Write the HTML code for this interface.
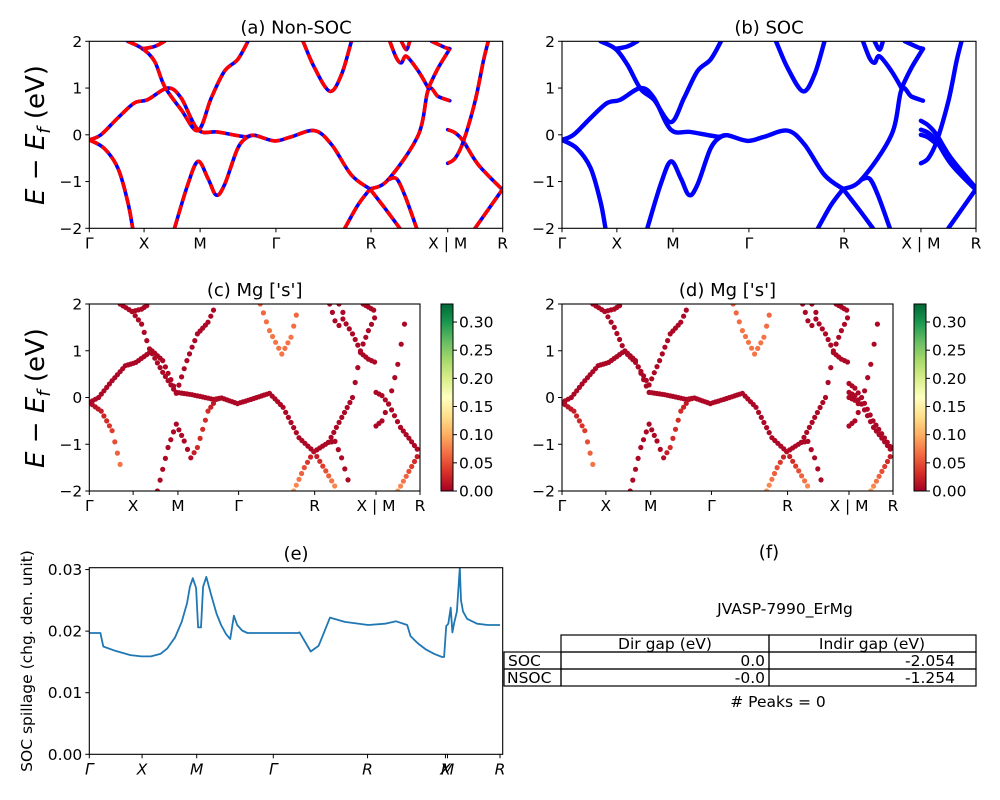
<!DOCTYPE html>
<html><head><meta charset="utf-8">
<style>
body{margin:0;background:#fff;}
svg{display:block;font-family:"DejaVu Sans","Liberation Sans",sans-serif;}
</style></head>
<body>
<svg id="fig" width="1000" height="800" viewBox="0 0 1000 800" xmlns="http://www.w3.org/2000/svg">
<defs>
<linearGradient id="rdylgn" x1="0" y1="1" x2="0" y2="0">
<stop offset="0" stop-color="#a50026"/><stop offset="0.1" stop-color="#d73027"/><stop offset="0.2" stop-color="#f46d43"/><stop offset="0.3" stop-color="#fdae61"/><stop offset="0.4" stop-color="#fee08b"/><stop offset="0.5" stop-color="#ffffbf"/><stop offset="0.6" stop-color="#d9ef8b"/><stop offset="0.7" stop-color="#a6d96a"/><stop offset="0.8" stop-color="#66bd63"/><stop offset="0.9" stop-color="#1a9850"/><stop offset="1" stop-color="#006837"/>
</linearGradient>
</defs>
<g id="root"></g>
<g font-size="15.5">
<text x="769" y="558" text-anchor="middle" font-size="18">(f)</text>
<text x="785" y="614" text-anchor="middle">JVASP-7990_ErMg</text>
<g fill="none" stroke="#000" stroke-width="1.2">
<rect x="561" y="635" width="208" height="17"/><rect x="769" y="635" width="207" height="17"/>
<rect x="504" y="652" width="57" height="17"/><rect x="561" y="652" width="208" height="17"/><rect x="769" y="652" width="207" height="17"/>
<rect x="504" y="669" width="57" height="17"/><rect x="561" y="669" width="208" height="17"/><rect x="769" y="669" width="207" height="17"/>
</g>
<text x="665" y="649" text-anchor="middle">Dir gap (eV)</text>
<text x="872" y="649" text-anchor="middle">Indir gap (eV)</text>
<text x="508" y="666">SOC</text>
<text x="765" y="666" text-anchor="end">0.0</text>
<text x="955" y="666" text-anchor="end">-2.054</text>
<text x="507" y="683">NSOC</text>
<text x="765" y="683" text-anchor="end">-0.0</text>
<text x="955" y="683" text-anchor="end">-1.254</text>
<text x="778" y="707" text-anchor="middle"># Peaks = 0</text>
</g>
</svg>
<script>
// ---- band data: [k fraction along path, energy eV, Mg-s weight] ----
const bandA=[[0,-0.11,0.005],[0.028,0,0.005],[0.069,0.36,0.005],[0.109,0.68,0.005],[0.141,0.75,0.005],[0.19,1.0,0.005],[0.222,0.79,0.005],[0.263,0.11,0.005],[0.311,0.06,0.005],[0.376,-0.04,0.005],[0.4,-0.01,0.005],[0.448,-0.13,0.005],[0.489,-0.04,0.005],[0.545,0.09,0.005],[0.586,-0.21,0.005],[0.634,-0.86,0.005],[0.679,-1.16,0.005]];
const bandA2=[[0.679,-1.16,0.005],[0.723,-0.96,0.005],[0.796,0,0.005],[0.82,0.96,0.005],[0.844,0.82,0.005],[0.872,0.73,0.005]];
const bandB=[[0.093,2.0,0.005],[0.129,1.84,0.005],[0.158,1.57,0.005],[0.182,1.04,0.005],[0.222,0.54,0.005],[0.263,0.09,0.005],[0.295,0.79,0.005],[0.327,1.36,0.005],[0.359,1.61,0.005],[0.384,2.0,0.005]];
const bandBsoc=[[0.093,2.0,0.005],[0.129,1.84,0.005],[0.158,1.5,0.005],[0.19,0.98,0.005],[0.222,0.75,0.005],[0.263,0.27,0.005],[0.295,0.79,0.005],[0.327,1.36,0.005],[0.359,1.61,0.005],[0.384,2.0,0.005]];
const bandC=[[0.129,1.84,0.005],[0.158,1.89,0.005],[0.182,2.0,0.005]];
const bandD=[[0,-0.11,0.005],[0.036,-0.29,0.02],[0.069,-0.71,0.04],[0.093,-1.43,0.07],[0.105,-2.0,0.09]];
const bandE=[[0.206,-2,0.005],[0.238,-1.07,0.005],[0.263,-0.57,0.005],[0.287,-0.93,0.005],[0.307,-1.29,0.01],[0.327,-1.07,0.03],[0.359,-0.29,0.03],[0.384,-0.04,0.01],[0.4,-0.01,0.005]];
const bandF=[[0.517,2,0.06],[0.545,1.43,0.07],[0.582,0.93,0.07],[0.61,1.29,0.07],[0.634,2,0.06]];
const bandG1=[[0.618,-2,0.09],[0.65,-1.5,0.05],[0.679,-1.16,0.01]];
const bandG2=[[0.679,-1.16,0.01],[0.715,-1.57,0.05],[0.751,-2,0.09]];
const bandG3=[[0.723,-0.96,0.005],[0.743,-0.94,0.005],[0.763,-1.29,0.005],[0.792,-2,0.005]];
const bandH1=[[0.727,2,0.005],[0.743,1.64,0.005],[0.755,1.54,0.005],[0.767,1.68,0.005],[0.796,1.36,0.005],[0.82,1.0,0.005]];
const bandH2=[[0.755,2,0.005],[0.767,1.82,0.005],[0.775,2,0.005]];
const bandH3=[[0.828,2,0.005],[0.86,1.87,0.005],[0.872,1.84,0.005]];
const bandH4=[[0.82,1.0,0.005],[0.844,1.43,0.005],[0.872,1.84,0.005]];
const bandI1=[[0.867,0.11,0.005],[0.885,0.04,0.005],[0.905,-0.14,0.005],[0.941,-0.64,0.005],[1,-1.18,0.005]];
const bandI2=[[0.867,-0.61,0.005],[0.885,-0.5,0.005],[0.905,-0.14,0.005],[0.933,0.71,0.005],[0.953,1.57,0.005],[0.965,2,0.005]];
const bandI3=[[0.933,-2,0.09],[1,-1.16,0.01]];
const socI4=[[0.867,0.3,0.005],[0.885,0.2,0.005],[0.905,0.0,0.005],[0.94,-0.5,0.005],[1,-1.14,0.005]];
const socI5=[[0.867,0.0,0.005],[0.885,-0.06,0.005],[0.905,-0.2,0.005]];
const nsocBands=[bandA,bandA2,bandB,bandC,bandD,bandE,bandF,bandG1,bandG2,bandG3,bandH1,bandH2,bandH3,bandH4,bandI1,bandI2,bandI3];
const socBands=[bandA,bandA2,bandBsoc,bandC,bandD,bandE,bandF,bandG1,bandG2,bandG3,bandH1,bandH2,bandH3,bandH4,bandI1,bandI2,bandI3,socI4,socI5];
const kTickFrac=[0,0.1325,0.268,0.4515,0.6815,0.867,1];
const kTickLabels=["Γ","X","M","Γ","R","X | M","R"];
const eTicks=[-2,-1,0,1,2];
const cbTicks=[0,0.05,0.1,0.15,0.2,0.25,0.3];
const cbMax=0.332;
// ---- spillage data ----
const spillK=[0,0.027,0.034,0.063,0.1,0.127,0.15,0.173,0.19,0.209,0.225,0.238,0.245,0.252,0.26,0.265,0.272,0.277,0.285,0.297,0.31,0.321,0.333,0.343,0.352,0.36,0.372,0.385,0.445,0.508,0.512,0.539,0.558,0.562,0.586,0.622,0.679,0.72,0.747,0.774,0.782,0.8,0.82,0.84,0.859,0.864,0.869,0.874,0.88,0.884,0.888,0.895,0.902,0.905,0.91,0.92,0.944,0.97,1];
const spillV=[0.0197,0.0197,0.0175,0.0168,0.0161,0.0159,0.0159,0.0163,0.0172,0.019,0.0215,0.0245,0.0272,0.0286,0.0270,0.0206,0.0206,0.0272,0.0288,0.0258,0.0228,0.021,0.0195,0.0187,0.0225,0.021,0.0201,0.0197,0.0197,0.0197,0.0198,0.0167,0.0176,0.0182,0.0222,0.0215,0.0210,0.0212,0.0216,0.0210,0.0192,0.0180,0.0170,0.0163,0.0158,0.0158,0.0208,0.0212,0.0238,0.0198,0.0212,0.0232,0.0303,0.0250,0.0232,0.0220,0.0212,0.0210,0.0210];
const spillTickFrac=[0,0.1285,0.2615,0.448,0.6775,0.8672,0.8722,1];
const spillTickLabels=["Γ","X","M","Γ","R","X","M","R"];
const spillYTicks=[0,0.01,0.02,0.03];

const NS="http://www.w3.org/2000/svg";
const root=document.getElementById('root');
function mk(tag,attrs,parent){const e=document.createElementNS(NS,tag);for(const k in attrs)e.setAttribute(k,attrs[k]);(parent||root).appendChild(e);return e;}
function txt(x,y,s,attrs,parent){const t=mk('text',Object.assign({x:x,y:y},attrs||{}),parent);t.textContent=s;return t;}
const cmapStops=["#a50026","#d73027","#f46d43","#fdae61","#fee08b","#ffffbf","#d9ef8b","#a6d96a","#66bd63","#1a9850","#006837"];
function hex(c){return [parseInt(c.slice(1,3),16),parseInt(c.slice(3,5),16),parseInt(c.slice(5,7),16)];}
function cmap(v){let t=Math.max(0,Math.min(1,v/cbMax))*10;const i=Math.min(9,Math.floor(t));const f=t-i;const a=hex(cmapStops[i]),b=hex(cmapStops[i+1]);return 'rgb('+a.map((x,j)=>Math.round(x+(b[j]-x)*f)).join(',')+')';}
function smoothPath(pts){let d='M'+pts[0][0].toFixed(1)+','+pts[0][1].toFixed(1);for(let i=0;i<pts.length-1;i++){const p0=pts[Math.max(0,i-1)],p1=pts[i],p2=pts[i+1],p3=pts[Math.min(pts.length-1,i+2)];const c1=[p1[0]+(p2[0]-p0[0])/6,p1[1]+(p2[1]-p0[1])/6],c2=[p2[0]-(p3[0]-p1[0])/6,p2[1]-(p3[1]-p1[1])/6];d+=' C'+c1[0].toFixed(1)+','+c1[1].toFixed(1)+' '+c2[0].toFixed(1)+','+c2[1].toFixed(1)+' '+p2[0].toFixed(1)+','+p2[1].toFixed(1);}return d;}

function axesFrame(p,name,title,ticksFrac,labels){
  const g=mk('g',{});
  
  
  const cid='clip-'+name;
  const cp=mk('clipPath',{id:cid},g);mk('rect',{x:p.x0,y:p.y0,width:p.x1-p.x0,height:p.y1-p.y0},cp);
  const plot=mk('g',{'clip-path':'url(#'+cid+')'},g);
  
  
  const t=txt((p.x0+p.x1)/2,p.y0-8,title,{'text-anchor':'middle','font-size':'18'},g);
  
  
  ticksFrac.forEach((f,i)=>{const x=p.x0+f*(p.xd-p.x0);mk('line',{x1:x,x2:x,y1:p.y1,y2:p.y1+4,stroke:'#000','stroke-width':1},g);
    const l=txt(x,p.y1+20,labels[i],{'text-anchor':'middle','font-size':'15.5','font-style':p.italic?'italic':'normal'},g);
    
    });
  return {g,plot};
}
function bandPanel(p,name,title,bands,mode){
  const ax=axesFrame(p,name,title,kTickFrac,kTickLabels);
  const X=k=>p.x0+k*(p.x1-p.x0), Y=e=>p.y1-(e+2)/4*(p.y1-p.y0);
  eTicks.forEach(e=>{const y=Y(e);mk('line',{x1:p.x0-4,x2:p.x0,y1:y,y2:y,stroke:'#000'},ax.g);
    const l=txt(p.x0-7,y+5.5,e<0?'−'+(-e):String(e),{'text-anchor':'end','font-size':'15.5'},ax.g);
    
    });
  bands.forEach((b,bi)=>{
    const pts=b.map(q=>[X(q[0]),Y(q[1])]);
    if(mode==='nsoc'){
      const a=mk('path',{d:smoothPath(pts),fill:'none',stroke:'#0000ff','stroke-width':3.6,'stroke-linecap':'round'},ax.plot);
      
      
      const r=mk('path',{d:smoothPath(pts),fill:'none',stroke:'#ff0000','stroke-width':3.6,'stroke-dasharray':'10 4'},ax.plot);
      
      
    } else if(mode==='soc'){
      const a=mk('path',{d:smoothPath(pts),fill:'none',stroke:'#0000ff','stroke-width':4.4,'stroke-linecap':'round'},ax.plot);
      
      
    } else {
      const step=1/120;
      for(let i=0;i<b.length-1;i++){
        const [k0,e0,w0]=b[i],[k1,e1,w1]=b[i+1];
        const n=Math.max(1,Math.round((k1-k0)/step));
        for(let j=0;j<n;j++){const f=j/n;const k=k0+(k1-k0)*f,e=e0+(e1-e0)*f,w=w0+(w1-w0)*f;
          const c=mk('circle',{cx:X(k).toFixed(1),cy:Y(e).toFixed(1),r:2.6,fill:cmap(w)},ax.plot);
          
          }
      }
    }
  });
  mk('rect',{x:p.x0,y:p.y0,width:p.x1-p.x0,height:p.y1-p.y0,fill:'none',stroke:'#000','stroke-width':1.1},ax.g);
  return ax;
}
function colorbar(x,y0,y1,name){
  const g=mk('g',{});
  
  
  mk('rect',{x:x,y:y0,width:12,height:y1-y0,fill:'url(#rdylgn)',stroke:'#000','stroke-width':1},g);
  cbTicks.forEach(v=>{const y=y1-v/cbMax*(y1-y0);mk('line',{x1:x+12,x2:x+16,y1:y,y2:y,stroke:'#000'},g);
    const l=txt(x+18,y+5.5,v.toFixed(2),{'font-size':'15.5'},g);
    
    });
}
const pa={x0:89.3,x1:502.7,xd:502.7,y0:41.3,y1:228.3};
const pb={x0:562,x1:976,xd:976,y0:41.3,y1:228.3};
const pc={x0:89.3,x1:420,xd:420,y0:304,y1:491};
const pd={x0:562,x1:893,xd:893,y0:304,y1:491};
bandPanel(pa,'panel-a','(a) Non-SOC',nsocBands,'nsoc');
bandPanel(pb,'panel-b','(b) SOC',socBands,'soc');
bandPanel(pc,'panel-c',"(c)  Mg ['s']",nsocBands,'dots');
bandPanel(pd,'panel-d',"(d) Mg ['s']",socBands,'dots');
colorbar(441,304,491,'colorbar-c');
colorbar(914,304,491,'colorbar-d');
[[135,'y-axis-title-a'],[398,'y-axis-title-c']].forEach(([cy,nm])=>{
  const t=mk('text',{x:0,y:0,transform:'translate(44,'+cy+') rotate(-90)','text-anchor':'middle','font-size':'26'});
  
  
  t.innerHTML='<tspan font-style="italic">E</tspan> − <tspan font-style="italic">E</tspan><tspan font-style="italic" font-size="18" dy="6">f</tspan><tspan dy="-6"> (eV)</tspan>';
});
(function(){
  const p={x0:89.3,x1:502.7,xd:500,y0:567.7,y1:754.3,italic:true};
  const ax=axesFrame(p,'panel-e','(e)',spillTickFrac,spillTickLabels);
  const X=k=>p.x0+k*(p.xd-p.x0), Y=v=>p.y1-v/0.0303*(p.y1-p.y0);
  spillYTicks.forEach(v=>{const y=Y(v);mk('line',{x1:p.x0-4,x2:p.x0,y1:y,y2:y,stroke:'#000'},ax.g);
    const l=txt(p.x0-7,y+5.5,v.toFixed(2),{'text-anchor':'end','font-size':'15.5'},ax.g);
    
    });
  const d=spillK.map((k,i)=>(i?'L':'M')+X(k).toFixed(1)+','+Y(spillV[i]).toFixed(1)).join(' ');
  const ln=mk('path',{d:d,fill:'none',stroke:'#1f77b4','stroke-width':1.8,'stroke-linejoin':'round'},ax.plot);
  
  
  mk('rect',{x:p.x0,y:p.y0,width:p.x1-p.x0,height:p.y1-p.y0,fill:'none',stroke:'#000','stroke-width':1.1},ax.g);
  const t=txt(0,0,'SOC spillage (chg. den. unit)',{transform:'translate(32,661) rotate(-90)','text-anchor':'middle','font-size':'15.5'});
  
  
})();
</script>
</body></html>
